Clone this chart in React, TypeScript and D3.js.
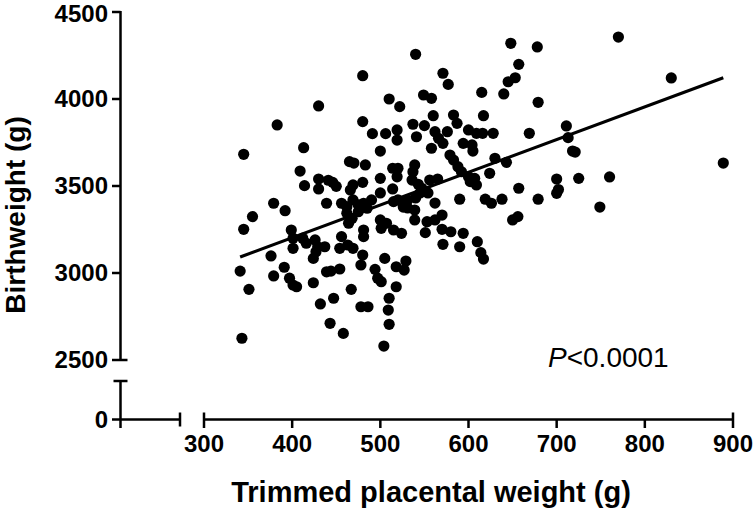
import React from 'react';
import * as d3 from 'd3';

// Trimmed placental weight (g)
const placentalWeight = [
  343, 345, 341, 345, 351, 355, 376, 379, 392, 379, 391, 383, 397, 401, 405, 399, 401, 401, 412, 416,
  426, 429, 437, 427, 424, 424, 439, 444, 454, 432, 447, 443, 458, 430, 413, 409, 430, 414, 430, 441,
  446, 450, 439, 456, 465, 470, 483, 480, 510, 480, 491, 506, 500, 469, 466, 480, 500, 514, 514, 500,
  462, 469, 475, 481, 490, 515, 462, 468, 464, 475, 485, 500, 507, 515, 501, 481, 481, 456, 454, 463,
  469, 480, 478, 505, 518, 494, 497, 501, 518, 467, 478, 486, 510, 509, 510, 504, 529, 527, 540, 522,
  519, 519, 571, 577, 549, 558, 560, 583, 587, 537, 550, 541, 562, 566, 571, 558, 576, 600, 594, 604,
  605, 579, 583, 588, 592, 600, 607, 609, 602, 565, 539, 537, 536, 543, 547, 520, 519, 545, 520, 531,
  540, 554, 531, 539, 562, 526, 570, 539, 553, 562, 551, 570, 580, 594, 571, 590, 610, 614, 617, 590,
  556, 524, 615, 617, 609, 616, 628, 630, 643, 624, 648, 678, 657, 653, 645, 640, 679, 669, 657, 700,
  702, 700, 711, 713, 718, 721, 725, 760, 619, 626, 638, 679, 650, 656, 749, 770, 830, 889,
];

// Birthweight (g)
const birthWeight = [
  2625, 3682, 3011, 3251, 2906, 3324, 3098, 3401, 3358, 2983, 3033, 3851, 2970, 2931, 2921, 3247, 3200, 3142, 3200, 3171,
  3190, 3151, 3151, 3122, 3084, 2944, 3007, 3011, 3023, 2822, 2855, 2711, 2653, 3960, 3720, 3586, 3540, 3502, 3483, 3533,
  3521, 3498, 3401, 3401, 3640, 3632, 3621, 4134, 4000, 3870, 3801, 3801, 3701, 3506, 3477, 3521, 3544, 3602, 3483, 3460,
  3381, 3420, 3391, 3401, 3420, 3410, 3343, 3314, 3286, 3352, 3372, 3305, 3286, 3247, 3257, 3247, 3209, 3209, 3142, 3161,
  3142, 3103, 3046, 3084, 3036, 3021, 2970, 2950, 2921, 2906, 2806, 2806, 2855, 2787, 2705, 2580, 3069, 3017, 4257, 3956,
  3822, 3764, 4148, 4084, 4023, 4004, 3904, 3908, 3860, 3855, 3847, 3783, 3812, 3774, 3745, 3717, 3812, 3822, 3745, 3736,
  3701, 3678, 3649, 3611, 3582, 3553, 3544, 3506, 3525, 3540, 3621, 3582, 3534, 3510, 3487, 3602, 3553, 3460, 3420, 3420,
  3431, 3460, 3374, 3362, 3402, 3379, 3333, 3305, 3295, 3305, 3232, 3251, 3237, 3228, 3165, 3151, 3180, 3117, 3080, 3424,
  3534, 3228, 4038, 3904, 3803, 3803, 3803, 3659, 3636, 3573, 4320, 4299, 4199, 4122, 4099, 4029, 3981, 3803, 3487, 3540,
  3480, 3458, 3845, 3778, 3701, 3695, 3544, 3552, 3424, 3401, 3424, 3424, 3305, 3324, 3379, 4356, 4121, 3632,
];

const yTicks = [2500, 3000, 3500, 4000, 4500];
const xTicks = [300, 400, 500, 600, 700, 800, 900];
const yLowTicks = [0];
const regression = { slope: 1.88, intercept: 2451 };
const xTitle = 'Trimmed placental weight (g)';
const yTitle = 'Birthweight (g)';
const pItalic = 'P';
const pRest = '<0.0001';

const FONT = "'Liberation Sans', Arial, Helvetica, sans-serif";

export default function App() {
  const W = 756;
  const H = 512;
  const axisX = 120.5;
  const axisY = 419.5;

  const x = d3.scaleLinear().domain([300, 900]).range([204, 733]);
  const y = d3.scaleLinear().domain([2500, 4500]).range([360, 12]);
  const yLow = d3.scaleLinear().domain([0, 225]).range([axisY, 381]);
  const xLow = d3.scaleLinear().domain([0, 67]).range([axisX, 180]);

  const points = placentalWeight.map((px, i) => ({ px, bw: birthWeight[i] }));
  const [xmin, xmax] = d3.extent(placentalWeight) as [number, number];
  const regLine = d3
    .line<number>()
    .x((d) => x(d))
    .y((d) => y(regression.intercept + regression.slope * d));

  const sw = 2.5;
  const tickLen = 8.5;
  const tickFs = 24;
  const labelBaseline = (py: number) => Math.max(py + 0.35 * tickFs, 0.92 * tickFs);

  return (
    <svg
      width={W}
      height={H}
      viewBox={`0 0 ${W} ${H}`}
      style={{ position: 'absolute', left: 0, top: 0, background: '#fff' }}
    >
      <rect x={0} y={0} width={W} height={H} fill="#fff" />
      <g stroke="#000" strokeWidth={sw} fill="none" strokeLinecap="butt">
        {/* upper y segment */}
        <line x1={axisX} x2={axisX} y1={y(4500) - 1} y2={y(2500)} />
        {yTicks.map((t) => (
          <line
            key={'yt' + t}
            x1={axisX - tickLen}
            x2={t === 2500 ? axisX + 7 : axisX}
            y1={y(t)}
            y2={y(t)}
          />
        ))}
        {/* lower y segment */}
        <line x1={axisX} x2={axisX} y1={yLow(225)} y2={axisY + tickLen} />
        <line x1={axisX - 7} x2={axisX + 7} y1={yLow(225)} y2={yLow(225)} />
        {yLowTicks.map((t) => (
          <line key={'ylt' + t} x1={axisX - tickLen} x2={axisX} y1={yLow(t)} y2={yLow(t)} />
        ))}
        {/* left x segment */}
        <line x1={xLow(0)} x2={xLow(67)} y1={axisY} y2={axisY} />
        <line x1={xLow(67)} x2={xLow(67)} y1={axisY - 7} y2={axisY + 7} />
        {/* right x segment */}
        <line x1={x(300)} x2={x(900)} y1={axisY} y2={axisY} />
        {xTicks.map((t) => (
          <line
            key={'xt' + t}
            x1={x(t)}
            x2={x(t)}
            y1={t === 300 || t === 900 ? axisY - 7 : axisY}
            y2={axisY + tickLen}
          />
        ))}
      </g>

      <g fontFamily={FONT} fontWeight="bold" fontSize={tickFs} fill="#000">
        {yTicks.map((t) => (
          <text key={'yl' + t} x={108} y={labelBaseline(y(t))} textAnchor="end">
            {t}
          </text>
        ))}
        {yLowTicks.map((t) => (
          <text key={'yll' + t} x={108} y={labelBaseline(yLow(t))} textAnchor="end">
            {t}
          </text>
        ))}
        {xTicks.map((t) => (
          <text key={'xl' + t} x={x(t)} y={452} textAnchor="middle">
            {t}
          </text>
        ))}
        <text x={431} y={502} fontSize={29} textAnchor="middle">
          {xTitle}
        </text>
        <text transform="translate(25,215) rotate(-90)" fontSize={28} textAnchor="middle">
          {yTitle}
        </text>
      </g>

      <g fill="#000">
        {points.map((p, i) => (
          <circle key={i} cx={x(p.px)} cy={y(p.bw)} r={5.6} />
        ))}
      </g>

      <path d={regLine([xmin, xmax]) || ''} stroke="#000" strokeWidth={3.2} fill="none" />

      <text x={548} y={367} fontFamily={FONT} fontSize={28} fill="#000">
        <tspan fontStyle="italic">{pItalic}</tspan>
        <tspan>{pRest}</tspan>
      </text>
    </svg>
  );
}
